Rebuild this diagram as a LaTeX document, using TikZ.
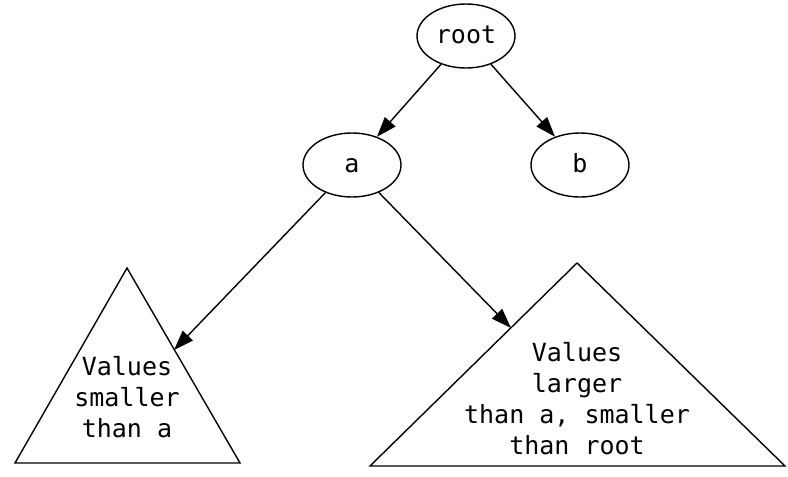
\documentclass[tikz,border=0pt]{standalone}
\usepackage{fontspec}
\setmonofont{DejaVu Sans Mono}
\usetikzlibrary{arrows.meta, shapes.geometric}

\begin{document}
\begin{tikzpicture}[
    x=0.5pt, y=-0.5pt,
    >={Triangle[length=10pt, width=7pt]},
    line width=0.7pt,
    % Style for the ellipse nodes of the tree
    vertex/.style={draw, ellipse, minimum width=49pt, minimum height=32pt,
        inner sep=0pt, text height=7pt, text depth=0pt,
        font=\ttfamily\fontsize{12.5}{15.5}\selectfont},
    % Style for the text inside the subtrees
    subtxt/.style={align=center, inner sep=0pt,
        font=\ttfamily\fontsize{12.5}{15.5}\selectfont}
]
\useasboundingbox (0,0) rectangle (788,477);

% --- Tree nodes ---
\node[vertex] (root) at (466,36) {root};
\node[vertex] (a) at (352,165) {a};
\node[vertex] (b) at (580,165) {b};

% --- Subtrees (triangles) ---
\draw[line join=miter] (127,268) -- (240,463) -- (15,463) -- cycle;
\draw[line join=miter] (577,263) -- (785,466) -- (370,466) -- cycle;
\coordinate (lefttip) at (174,350);
\coordinate (righttip) at (511,328);

\node[subtxt] (smaller) at (127,397) {Values\\smaller\\than a};
\node[subtxt] (larger) at (577,399) {Values\\larger\\than a, smaller\\than root};

% --- Edges ---
\draw[->] (root) -- (a);
\draw[->] (root) -- (b);
\draw[->] (a) -- (lefttip);
\draw[->] (a) -- (righttip);

\end{tikzpicture}
\end{document}
